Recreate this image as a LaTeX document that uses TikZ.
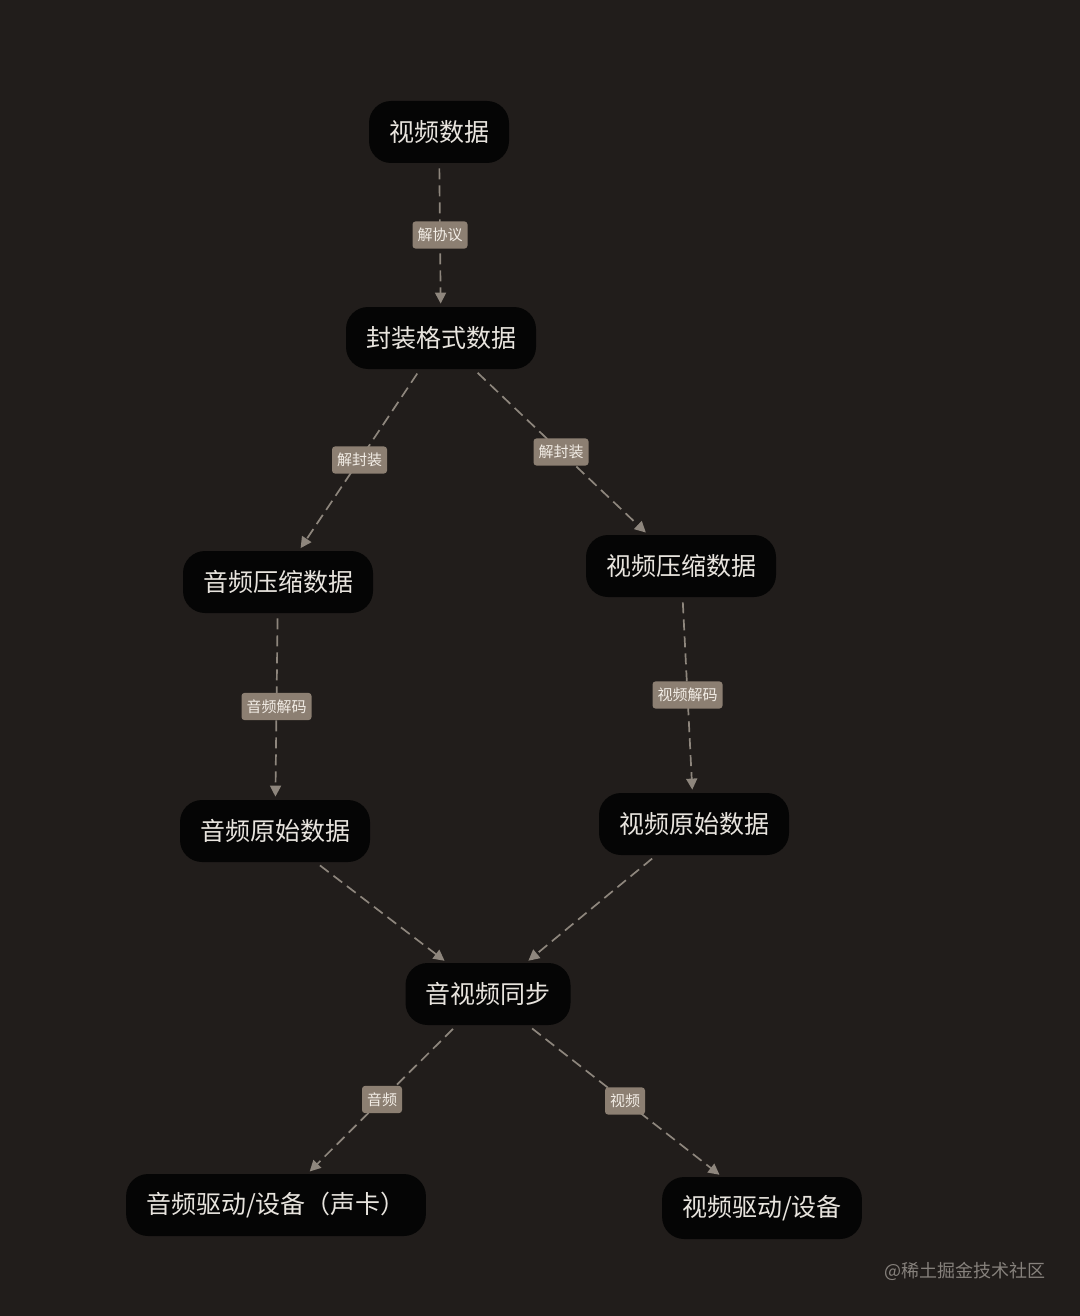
\documentclass[tikz,border=0pt]{standalone}
\usepackage{fontspec}
\setmainfont{Noto Sans CJK SC}
\usetikzlibrary{arrows.meta}

\definecolor{bgc}{HTML}{211D1B}
\definecolor{boxfill}{HTML}{050505}
\definecolor{boxtext}{HTML}{E8E4DE}
\definecolor{lblfill}{HTML}{8C7F72}
\definecolor{lbltext}{HTML}{F2EDE6}
\definecolor{flowc}{HTML}{8E867D}
\definecolor{markc}{HTML}{86817C}

\tikzstyle{box} = [fill=boxfill, text=boxtext, rounded corners=11pt, minimum height=31pt, inner xsep=10pt, font=\fontsize{12.5}{14}\selectfont]
\tikzstyle{lbl} = [fill=lblfill, text=lbltext, rounded corners=1.5pt, inner xsep=2.5pt, inner ysep=3.3pt, font=\fontsize{7.5}{8}\selectfont]
\tikzstyle{flow} = [draw=flowc, line width=0.85pt, dash pattern=on 5.5pt off 3pt, -{Triangle[length=5.5pt,width=5.5pt]}, shorten <=2.5pt, shorten >=1.5pt]

\begin{document}
\begin{tikzpicture}[x=0.5pt, y=-0.5pt]
\fill[bgc] (0,0) rectangle (1080,1316);
\useasboundingbox (0,0) rectangle (1080,1316);

\node[box] (video) at (439,132) {视频数据};
\node[box] (mux) at (441,338) {封装格式数据};
\node[box] (acomp) at (278,582) {音频压缩数据};
\node[box] (vcomp) at (681,566) {视频压缩数据};
\node[box] (araw) at (275,831) {音频原始数据};
\node[box] (vraw) at (694,824) {视频原始数据};
\node[box] (sync) at (488,994) {音视频同步};
\node[box] (adev) at (276,1205) {音频驱动/设备（声卡）};
\node[box] (vdev) at (762,1208) {视频驱动/设备};

\draw[flow] (video) -- node[lbl] {解协议} (mux);
\draw[flow] (mux) -- node[lbl] {解封装} (acomp);
\draw[flow] (mux) -- node[lbl] {解封装} (vcomp);
\draw[flow] (acomp) -- node[lbl] {音频解码} (araw);
\draw[flow] (vcomp) -- node[lbl] {视频解码} (vraw);
\draw[flow] (araw) -- (sync);
\draw[flow] (vraw) -- (sync);
\draw[flow] (sync) -- node[lbl] {音频} (adev);
\draw[flow] (sync) -- node[lbl] {视频} (vdev);

\node[text=markc, font=\fontsize{9}{10}\selectfont] (mark) at (965,1271) {@稀土掘金技术社区};
\end{tikzpicture}
\end{document}
